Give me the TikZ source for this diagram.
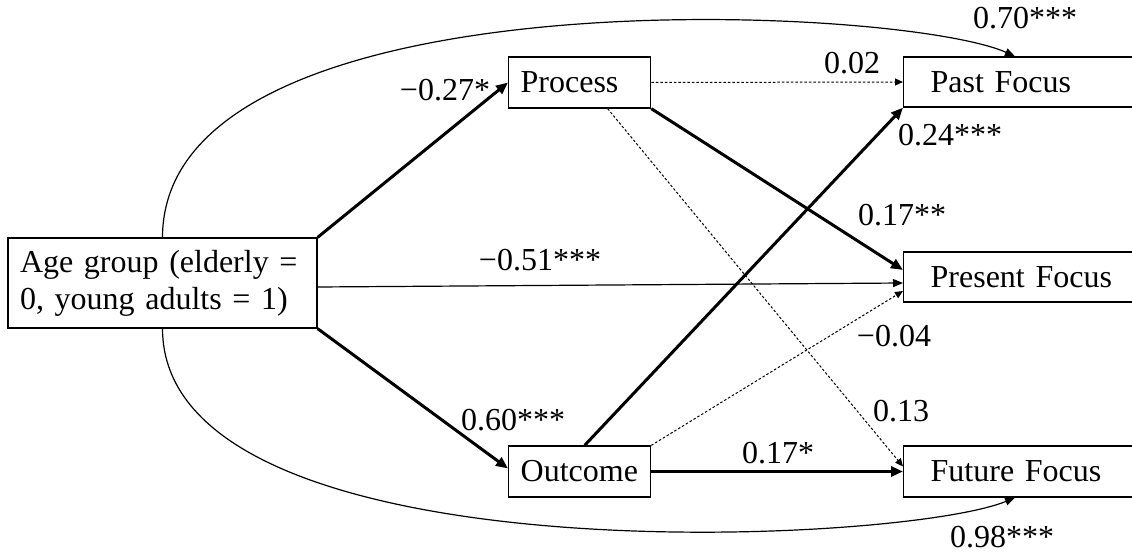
\documentclass[tikz,border=0pt]{standalone}
\usepackage{fontspec}
\setmainfont{Liberation Serif}
\usetikzlibrary{arrows.meta,calc}
\begin{document}
\begin{tikzpicture}[x=1pt,y=-1pt,
  font=\fontsize{32}{37}\selectfont,
  box/.style={draw,line width=1.3pt,align=left,inner xsep=12pt,inner ysep=0pt,minimum height=51pt,anchor=west},
  fbox/.style={box,inner xsep=27pt,text width=196pt},
  lbl/.style={inner sep=0pt},
  thickarrow/.style={line width=3pt,-{Triangle[length=12pt,width=10pt]}},
  thinarrow/.style={line width=1.2pt,-{Triangle[length=10pt,width=8pt]}},
  dotarrow/.style={line width=1pt,dash pattern=on 2.5pt off 2pt,-{Triangle[length=8pt,width=7pt]}},
  curvearrow/.style={line width=1.2pt,-{Triangle[length=10pt,width=8pt]}}]
\clip (0,0) rectangle (1132,553);
\fill[white] (0,0) rectangle (1132,553);
% boxes
\node[box,text width=285pt,minimum height=90pt,anchor=center] (age) at (162.5,283) {Age group (elderly =\\0, young adults = 1)};
\node[box,text width=118pt] (proc) at (508,82.5) {Process};
\node[box,text width=118pt] (out) at (508,471.5) {Outcome};
\node[fbox,minimum height=50pt] (past) at (903,82) {Past Focus};
\node[fbox,minimum height=50pt] (pres) at (903,277) {Present Focus};
\node[fbox] (fut) at (903,471.5) {Future Focus};
% connectors
\draw[thickarrow] (age.north east) -- (proc.west);
\draw[thickarrow] (age.south east) -- ([yshift=3pt]out.west);
\draw[thinarrow] ([yshift=-4pt]age.east) -- ([yshift=-6pt]pres.west);
\draw[dotarrow] (proc.east) -- (past.west);
\draw[thickarrow] (proc.south east) -- ([yshift=7pt]pres.west);
\draw[dotarrow] ([xshift=28pt]proc.south) -- ([yshift=5pt]fut.west);
\draw[thickarrow] ([xshift=5pt]out.north) -- (past.south west);
\draw[dotarrow] (out.north east) -- ([yshift=-14pt]pres.west);
\draw[thickarrow] (out.east) -- (fut.west);
\coordinate (pastin) at ($(past.north west)+(112,0)$);
\coordinate (futin) at ($(fut.south west)+(112,0)$);
\draw[curvearrow] (age.north) .. controls (163,-30) and (900,5) .. (pastin);
\draw[curvearrow] (age.south) .. controls (163,580) and (900,545) .. (futin);
% labels
\node[lbl] (l1) at (445,90) {−0.27*};
\node[lbl] (l2) at (852,63) {0.02};
\node[lbl] (l3) at (1025,18) {0.70***};
\node[lbl] (l4) at (950,135) {0.24***};
\node[lbl] (l5) at (902,215) {0.17**};
\node[lbl] (l6) at (540,260) {−0.51***};
\node[lbl] (l7) at (894,336) {−0.04};
\node[lbl] (l8) at (901,411) {0.13};
\node[lbl] (l9) at (778,453) {0.17*};
\node[lbl] (l10) at (513,420) {0.60***};
\node[lbl] (l11) at (1002,537) {0.98***};
\end{tikzpicture}
\end{document}
